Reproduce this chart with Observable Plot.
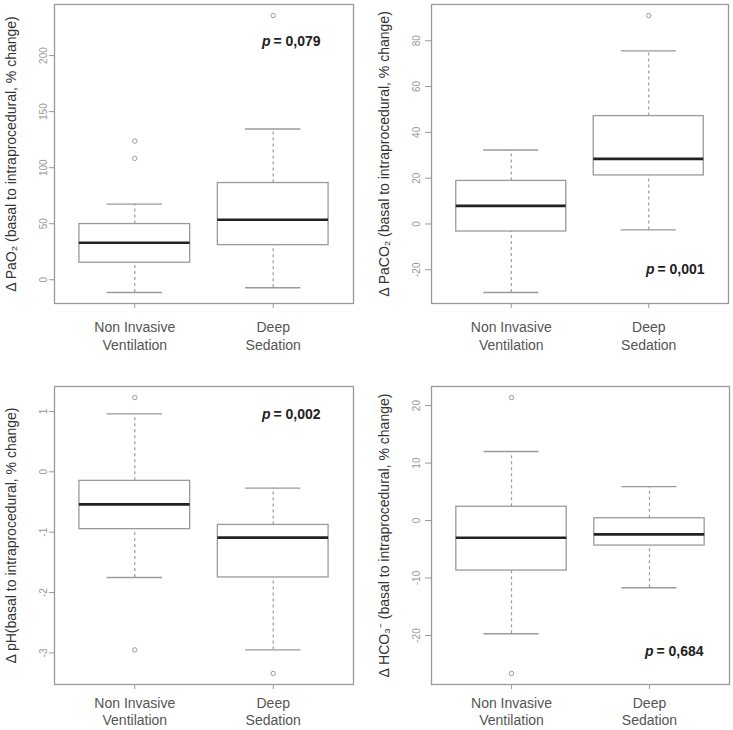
<!DOCTYPE html>
<html>
<head>
<meta charset="utf-8">
<script src="https://cdn.jsdelivr.net/npm/d3@7"></script>
<script src="https://cdn.jsdelivr.net/npm/@observablehq/plot@0.6"></script>
<style>
  html, body { margin: 0; padding: 0; background: #fff; }
  #chart { position: relative; width: 733px; height: 730px; overflow: hidden; background: #fff; }
  #chart svg { position: absolute; }
</style>
</head>
<body>
<div id="chart"></div>
<script>
// ---- Data ----
const groups = ["Non Invasive\nVentilation", "Deep\nSedation"];

// Δ PaO2
const pao2Low    = [-11.3, -7.1];
const pao2Q1     = [15.2, 30.9];
const pao2Median = [33.0, 53.6];
const pao2Q3     = [49.7, 86.3];
const pao2High   = [67.5, 134.5];
const pao2OutlierGroup = [0, 0, 1];
const pao2OutlierValue = [108.3, 123.7, 235.7];
const pao2Ticks = [0, 50, 100, 150, 200];

// Δ PaCO2
const paco2Low    = [-29.9, -2.6];
const paco2Q1     = [-3.3, 21.2];
const paco2Median = [7.9, 28.4];
const paco2Q3     = [18.8, 47.1];
const paco2High   = [32.3, 75.6];
const paco2OutlierGroup = [1];
const paco2OutlierValue = [91.0];
const paco2Ticks = [-20, 0, 20, 40, 60, 80];

// Δ pH
const phLow    = [-1.75, -2.95];
const phQ1     = [-0.95, -1.75];
const phMedian = [-0.54, -1.09];
const phQ3     = [-0.15, -0.88];
const phHigh   = [0.96, -0.27];
const phOutlierGroup = [0, 0, 1];
const phOutlierValue = [1.23, -2.95, -3.34];
const phTicks = [-3, -2, -1, 0, 1];

// Δ HCO3-
const hco3Low    = [-19.7, -11.7];
const hco3Q1     = [-8.7, -4.35];
const hco3Median = [-3.0, -2.4];
const hco3Q3     = [2.4, 0.4];
const hco3High   = [12.0, 5.9];
const hco3OutlierGroup = [0, 0];
const hco3OutlierValue = [21.4, -26.6];
const hco3Ticks = [-20, -10, 0, 10, 20];

const yTitles = [
  "Δ PaO₂ (basal to intraprocedural, % change)",
  "Δ PaCO₂ (basal to intraprocedural, % change)",
  "Δ pH(basal to intraprocedural, % change)",
  "Δ HCO₃⁻ (basal to intraprocedural, % change)"
];
const pValues = ["0,079", "0,001", "0,002", "0,684"];

// ---- Styling constants ----
const GRAY = "#9a9a9a";
const FONT = "'Liberation Sans', Arial, Helvetica, sans-serif";

function paddedDomain(values) {
  const [a, b] = d3.extent(values);
  const pad = (b - a) * 0.04;
  return [a - pad, b + pad];
}

function panel(cfg) {
  const idx = groups.map((_, i) => i);
  const outIdx = cfg.outG.map((_, i) => i);
  const allVals = [...cfg.low, ...cfg.high, ...cfg.outV];
  const half = 0.4, cap = 0.2;
  const pAnchor = cfg.pTop ? "top-right" : "bottom-right";
  const svg = Plot.plot({
    width: cfg.width,
    height: cfg.height,
    marginLeft: cfg.ml,
    marginRight: cfg.mr,
    marginTop: cfg.mt,
    marginBottom: cfg.mb,
    style: { fontFamily: FONT, background: "transparent", overflow: "visible" },
    x: { type: "linear", domain: [0.42, 2.58], axis: null },
    y: { type: "linear", domain: paddedDomain(allVals), axis: null },
    marks: [
      // whiskers
      Plot.ruleX(idx, { x: i => i + 1, y1: i => cfg.q3[i], y2: i => cfg.high[i], stroke: GRAY, strokeWidth: 1.2, strokeDasharray: "3,3" }),
      Plot.ruleX(idx, { x: i => i + 1, y1: i => cfg.low[i], y2: i => cfg.q1[i], stroke: GRAY, strokeWidth: 1.2, strokeDasharray: "3,3" }),
      // whisker caps
      Plot.ruleY(idx, { y: i => cfg.high[i], x1: i => i + 1 - cap, x2: i => i + 1 + cap, stroke: GRAY, strokeWidth: 1.4 }),
      Plot.ruleY(idx, { y: i => cfg.low[i], x1: i => i + 1 - cap, x2: i => i + 1 + cap, stroke: GRAY, strokeWidth: 1.4 }),
      // boxes
      Plot.rect(idx, { x1: i => i + 1 - half, x2: i => i + 1 + half, y1: i => cfg.q1[i], y2: i => cfg.q3[i], fill: "white", stroke: GRAY, strokeWidth: 1.3 }),
      // medians
      Plot.ruleY(idx, { y: i => cfg.med[i], x1: i => i + 1 - half, x2: i => i + 1 + half, stroke: "#222", strokeWidth: 2.6 }),
      // outliers
      Plot.dot(outIdx, { x: i => cfg.outG[i] + 1, y: i => cfg.outV[i], r: 2.2, stroke: GRAY, fill: "none", strokeWidth: 1 }),
      // frame
      Plot.frame({ stroke: GRAY, strokeWidth: 1.3 }),
      // axes
      Plot.axisY(cfg.ticks, { tickRotate: -90, tickSize: cfg.tickSize, tickPadding: cfg.tickPad, fontSize: 10, stroke: GRAY, fill: "#999", label: null, tickFormat: d => String(d) }),
      Plot.axisX([1, 2], { tickFormat: i => groups[i - 1], tickSize: 5, tickPadding: cfg.xPad, fontSize: 14, lineHeight: cfg.lh, stroke: GRAY, fill: "#555", label: null }),
      // y title
      Plot.text([cfg.title], { text: d => d, frameAnchor: "left", rotate: -90, dx: cfg.titleDx, fontSize: 14, fill: "#333", textAnchor: "middle", lineAnchor: "middle" }),
      // p value
      Plot.text(["p"], { text: d => d, frameAnchor: pAnchor, dx: cfg.pDx - 50, dy: cfg.pDy, fontSize: 14, fontStyle: "italic", fontWeight: "bold", fill: "#222", textAnchor: "end", lineAnchor: "middle" }),
      Plot.text([cfg.p], { text: d => "= " + d, frameAnchor: pAnchor, dx: cfg.pDx, dy: cfg.pDy, fontSize: 14, fontWeight: "bold", fill: "#222", textAnchor: "end", lineAnchor: "middle" })
    ]
  });
  svg.style.left = cfg.left + "px";
  svg.style.top = cfg.top + "px";
  return svg;
}

const chart = document.getElementById("chart");

chart.appendChild(panel({
  left: 0, top: 0, width: 363, height: 360, ml: 54, mr: 10, mt: 4, mb: 57,
  low: pao2Low, q1: pao2Q1, med: pao2Median, q3: pao2Q3, high: pao2High,
  outG: pao2OutlierGroup, outV: pao2OutlierValue, ticks: pao2Ticks,
  tickSize: 5, tickPad: 3, xPad: 11, lh: 1.27, titleDx: -43, title: yTitles[0],
  p: pValues[0], pTop: true, pDx: -33, pDy: 37
}));

chart.appendChild(panel({
  left: 363, top: 0, width: 370, height: 360, ml: 68, mr: 5, mt: 4, mb: 57,
  low: paco2Low, q1: paco2Q1, med: paco2Median, q3: paco2Q3, high: paco2High,
  outG: paco2OutlierGroup, outV: paco2OutlierValue, ticks: paco2Ticks,
  tickSize: 6, tickPad: 6, xPad: 11, lh: 1.27, titleDx: -47, title: yTitles[1],
  p: pValues[1], pTop: false, pDx: -24, pDy: -34
}));

chart.appendChild(panel({
  left: 0, top: 360, width: 363, height: 370, ml: 54, mr: 10, mt: 26, mb: 46,
  low: phLow, q1: phQ1, med: phMedian, q3: phQ3, high: phHigh,
  outG: phOutlierGroup, outV: phOutlierValue, ticks: phTicks,
  tickSize: 5, tickPad: 3, xPad: 7, lh: 1.17, titleDx: -43, title: yTitles[2],
  p: pValues[2], pTop: true, pDx: -33, pDy: 28
}));

chart.appendChild(panel({
  left: 363, top: 360, width: 370, height: 370, ml: 68, mr: 4, mt: 26, mb: 46,
  low: hco3Low, q1: hco3Q1, med: hco3Median, q3: hco3Q3, high: hco3High,
  outG: hco3OutlierGroup, outV: hco3OutlierValue, ticks: hco3Ticks,
  tickSize: 6, tickPad: 6, xPad: 7, lh: 1.17, titleDx: -47, title: yTitles[3],
  p: pValues[3], pTop: false, pDx: -26, pDy: -33
}));
</script>
</body>
</html>
